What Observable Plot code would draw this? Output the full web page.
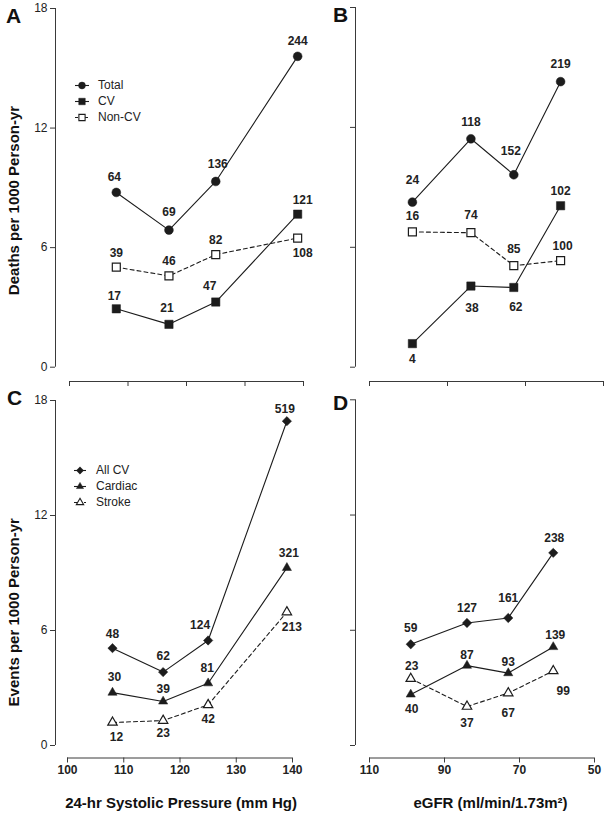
<!DOCTYPE html>
<html>
<head>
<meta charset="utf-8">
<script src="https://cdn.jsdelivr.net/npm/d3@7"></script>
<script src="https://cdn.jsdelivr.net/npm/@observablehq/plot@0.6"></script>
<style>
  body { margin: 0; background: #fff; }
  #root { position: relative; width: 613px; height: 815px; overflow: hidden; background: #fff;
          font-family: "Liberation Sans", Arial, Helvetica, sans-serif; }
  .panel { position: absolute; }
</style>
</head>
<body>
<div id="root"></div>
<script>
// ---------------- DATA ----------------
const sbp = [108, 117, 125, 139];          // 24-hr systolic pressure category means (mm Hg)
const egfr = [99, 84, 73, 61];             // eGFR category means
const sbpTicks = [100, 110, 120, 130, 140];
const egfrTicks = [110, 90, 70, 50];
const rateTicks = [0, 6, 12, 18];

const deathNames = ["Total", "CV", "Non-CV"];
const eventNames = ["All CV", "Cardiac", "Stroke"];

// Panel A: deaths per 1000 person-yr by 24-hr SBP
const aTotal  = [8.77, 6.88, 9.32, 15.6];
const aCV     = [2.93, 2.15, 3.27, 7.68];
const aNonCV  = [5.02, 4.58, 5.65, 6.48];
const aTotalN = [64, 69, 136, 244];
const aCVN    = [17, 21, 47, 121];
const aNonCVN = [39, 46, 82, 108];

// Panel B: deaths per 1000 person-yr by eGFR
const bTotal  = [8.26, 11.43, 9.63, 14.29];
const bCV     = [1.18, 4.06, 3.99, 8.08];
const bNonCV  = [6.77, 6.73, 5.08, 5.33];
const bTotalN = [24, 118, 152, 219];
const bCVN    = [4, 38, 62, 102];
const bNonCVN = [16, 74, 85, 100];

// Panel C: events per 1000 person-yr by 24-hr SBP
const cAllCV    = [5.08, 3.83, 5.48, 16.92];
const cCardiac  = [2.76, 2.30, 3.25, 9.27];
const cStroke   = [1.20, 1.30, 2.12, 6.96];
const cAllCVN   = [48, 62, 124, 519];
const cCardiacN = [30, 39, 81, 321];
const cStrokeN  = [12, 23, 42, 213];

// Panel D: events per 1000 person-yr by eGFR
const dAllCV    = [5.27, 6.38, 6.64, 10.03];
const dCardiac  = [2.66, 4.16, 3.77, 5.13];
const dStroke   = [3.48, 2.03, 2.73, 3.88];
const dAllCVN   = [59, 127, 161, 238];
const dCardiacN = [40, 87, 93, 139];
const dStrokeN  = [23, 37, 67, 99];

// ---------------- STYLE ----------------
const FONT = '"Liberation Sans", Arial, Helvetica, sans-serif';
const INK = "#1c1c1c";
const AXIS = "#3a3a3a";
const markerStyle = {
  "Total":   {symbol: "circle",   r: 4.4, filled: true,  dashed: false},
  "CV":      {symbol: "square",   r: 4.7, filled: true,  dashed: false},
  "Non-CV":  {symbol: "square",   r: 4.5, filled: false, dashed: true},
  "All CV":  {symbol: "diamond2", r: 4.2, filled: true,  dashed: false},
  "Cardiac": {symbol: "triangle", r: 3.4, filled: true,  dashed: false},
  "Stroke":  {symbol: "triangle", r: 3.5, filled: false, dashed: true}
};
// label offsets (px) per point: [dx, dy]
const labelOffsets = {
  A: {"Total": [[-2,-15],[0,-18],[2,-17],[0,-15]],
      "CV": [[-2,-13],[-2,-16],[-6,-16],[5,-14]],
      "Non-CV": [[0,-14],[0,-15],[0,-14],[5,15]]},
  B: {"Total": [[0,-22],[0,-17],[-3,-24],[0,-17]],
      "CV": [[0,16],[1,22],[2,20],[0,-15]],
      "Non-CV": [[0,-16],[0,-18],[0,-17],[2,-15]]},
  C: {"All CV": [[0,-14],[0,-16],[-8,-15],[-2,-12]],
      "Cardiac": [[2,-15],[0,-12],[-1,-15],[2,-15]],
      "Stroke": [[4,15],[0,13],[0,14],[5,15]]},
  D: {"All CV": [[0,-16],[0,-15],[0,-20],[1,-15]],
      "Cardiac": [[1,15],[0,-10],[0,-11],[2,-12]],
      "Stroke": [[1,-13],[0,17],[0,20],[10,20]]}
};

const panels = [
  {id: "A", left: 0, top: 0, width: 306, height: 395, mL: 55, mR: 3, mT: 8, mB: 14, xGap: 14, yGap: 14.3,
   x: sbp, xTicks: sbpTicks, xLabels: false, yLabels: true,
   yTitle: "Deaths per 1000 Person-yr", yTitleOff: [-41, 5.5], letterOff: [-42, 8],
   series: [["Total", aTotal, aTotalN], ["CV", aCV, aCVN], ["Non-CV", aNonCV, aNonCVN]]},
  {id: "B", left: 306, top: 0, width: 307, height: 395, mL: 49, mR: 10, mT: 7, mB: 14, xGap: 14, yGap: 14.3,
   x: egfr, xTicks: egfrTicks, xLabels: false, yLabels: false,
   letterOff: [-15, 8],
   series: [["Total", bTotal, bTotalN], ["CV", bCV, bCVN], ["Non-CV", bNonCV, bNonCVN]]},
  {id: "C", left: 0, top: 380, width: 306, height: 435, mL: 55, mR: 14, mT: 20, mB: 57.5, xGap: 12, yGap: 12.5,
   x: sbp, xTicks: sbpTicks, xLabels: true, yLabels: true,
   yTitle: "Events per 1000 Person-yr", yTitleOff: [-41, 33], letterOff: [-41, -2],
   xTitle: "24-hr Systolic Pressure (mm Hg)", xTitleOff: [1, 45.5],
   series: [["All CV", cAllCV, cAllCVN], ["Cardiac", cCardiac, cCardiacN], ["Stroke", cStroke, cStrokeN]]},
  {id: "D", left: 306, top: 380, width: 307, height: 435, mL: 49, mR: 19, mT: 19.3, mB: 57.5, xGap: 14, yGap: 12.5,
   x: egfr, xTicks: egfrTicks, xLabels: true, yLabels: false,
   letterOff: [-15, 3],
   xTitle: "eGFR (ml/min/1.73m\u00B2)", xTitleOff: [8.5, 45.5],
   series: [["All CV", dAllCV, dAllCVN], ["Cardiac", dCardiac, dCardiacN], ["Stroke", dStroke, dStrokeN]]}
];

const root = document.getElementById("root");

for (const p of panels) {
  const plotW = p.width - p.mL - p.mR;
  const plotH = p.height - p.mT - p.mB;
  const xFirst = p.xTicks[0], xLast = p.xTicks[p.xTicks.length - 1];
  const x0 = xFirst - p.xGap * (xLast - xFirst) / (plotW - p.xGap);
  const yTop = rateTicks[rateTicks.length - 1];
  const y0 = rateTicks[0] - p.yGap * (yTop - rateTicks[0]) / (plotH - p.yGap);

  const marks = [
    Plot.ruleX([x0], {y1: rateTicks[0], y2: yTop, stroke: AXIS, strokeWidth: 1}),
    Plot.ruleY([y0], {x1: xFirst, x2: xLast, stroke: AXIS, strokeWidth: 1}),
    Plot.axisY({ticks: rateTicks, tickSize: 5, tickPadding: 3, stroke: AXIS, label: null,
                tickFormat: p.yLabels ? (d => String(d)) : (() => ""), fontSize: 12, fill: "#222"}),
    Plot.axisX({ticks: p.xTicks, tickSize: 5, tickPadding: 2, stroke: AXIS, label: null,
                tickFormat: p.xLabels ? (d => String(d)) : (() => ""), fontSize: 12, fontWeight: "bold", fill: "#222"})
  ];

  for (const [name, vals, ns] of p.series) {
    const st = markerStyle[name];
    const rows = p.x.map((xv, i) => ({x: xv, y: vals[i], n: ns[i]}));
    marks.push(Plot.line(rows, {x: "x", y: "y", stroke: INK, strokeWidth: 1.1,
      strokeDasharray: st.dashed ? "4,3" : null}));
  }
  for (const [name, vals, ns] of p.series) {
    const st = markerStyle[name];
    const rows = p.x.map((xv, i) => ({x: xv, y: vals[i], n: ns[i]}));
    marks.push(Plot.dot(rows, {x: "x", y: "y", symbol: () => st.symbol, r: st.r,
      fill: st.filled ? INK : "#fff", stroke: INK, strokeWidth: st.filled ? 0.5 : 1.2}));
    rows.forEach((row, i) => {
      const [dx, dy] = labelOffsets[p.id][name][i];
      marks.push(Plot.text([row], {x: "x", y: "y", text: d => String(d.n), dx, dy,
        fontSize: 12, fontWeight: "bold", fill: "#222", textAnchor: "middle", lineAnchor: "middle"}));
    });
  }

  marks.push(Plot.text([p.id], {frameAnchor: "top-left", dx: p.letterOff[0], dy: p.letterOff[1],
    fontSize: 21, fontWeight: "bold", fill: "#111", textAnchor: "middle", lineAnchor: "middle"}));
  if (p.yTitle) {
    marks.push(Plot.text([p.yTitle], {frameAnchor: "left", rotate: -90, dx: p.yTitleOff[0], dy: p.yTitleOff[1],
      fontSize: 15, fontWeight: "bold", fill: "#111", textAnchor: "middle", lineAnchor: "middle"}));
  }
  if (p.xTitle) {
    const xMid = (xFirst + xLast) / 2;
    marks.push(Plot.text([p.xTitle], {x: () => xMid, frameAnchor: "bottom", dx: p.xTitleOff[0], dy: p.xTitleOff[1],
      fontSize: 15, fontWeight: "bold", fill: "#111", textAnchor: "middle", lineAnchor: "middle"}));
  }

  const chart = Plot.plot({
    width: p.width, height: p.height,
    marginLeft: p.mL, marginRight: p.mR, marginTop: p.mT, marginBottom: p.mB,
    x: {domain: [x0, xLast]},
    y: {domain: [y0, yTop]},
    style: {fontFamily: FONT, fontSize: "12px", color: "#222", background: "transparent", overflow: "visible"},
    marks
  });
  const wrap = document.createElement("div");
  wrap.className = "panel";
  wrap.style.left = p.left + "px";
  wrap.style.top = p.top + "px";
  wrap.appendChild(chart);
  root.appendChild(wrap);
}

// ---------------- LEGENDS ----------------
function drawLegend(names, left, top, lineX1, lineX2, textX, rowGap) {
  const svg = d3.select(root).append("svg")
    .attr("width", 120).attr("height", 60)
    .style("position", "absolute").style("left", left + "px").style("top", top + "px")
    .style("overflow", "visible");
  names.forEach((name, i) => {
    const st = markerStyle[name];
    const cy = 8 + i * rowGap;
    const cx = (lineX1 + lineX2) / 2;
    svg.append("line").attr("x1", lineX1).attr("x2", lineX2).attr("y1", cy + 0.5).attr("y2", cy + 0.5)
      .attr("stroke", INK).attr("stroke-width", 1.1)
      .attr("stroke-dasharray", st.dashed ? "3,2" : null);
    const symType = {circle: d3.symbolCircle, square: d3.symbolSquare, diamond2: d3.symbolDiamond2, triangle: d3.symbolTriangle}[st.symbol];
    const rr = st.r * 0.78;
    svg.append("path").attr("d", d3.symbol(symType, rr * rr * Math.PI)())
      .attr("transform", `translate(${cx},${cy + 0.5})`)
      .attr("fill", st.filled ? INK : "#fff").attr("stroke", INK).attr("stroke-width", st.filled ? 0.5 : 1.1);
    svg.append("text").attr("x", textX).attr("y", cy).attr("dy", "0.35em")
      .attr("font-family", FONT).attr("font-size", 12).attr("fill", "#222").text(name);
  });
}
drawLegend(deathNames, 67, 77, 8, 22, 31, 16);
drawLegend(eventNames, 66, 462, 8, 20, 30, 16);
</script>
</body>
</html>
